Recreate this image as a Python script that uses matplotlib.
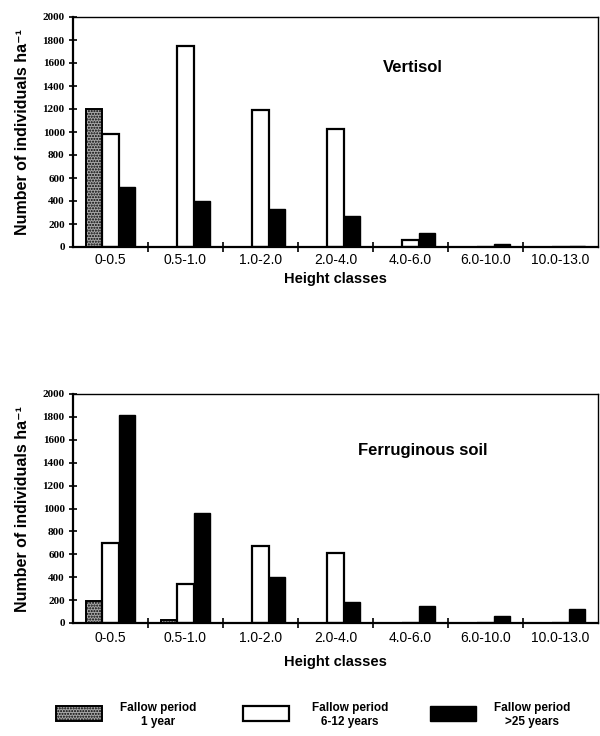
import matplotlib
matplotlib.use("Agg")
import matplotlib.pyplot as plt
from matplotlib.patches import Rectangle
import numpy as np

categories = ["0-0.5", "0.5-1.0", "1.0-2.0", "2.0-4.0", "4.0-6.0", "6.0-10.0", "10.0-13.0"]
series_names = ["Fallow period\n1 year", "Fallow period\n6-12 years", "Fallow period\n>25 years"]

vertisol_1yr = [1200, 0, 0, 0, 0, 0, 0]
vertisol_6_12 = [980, 1750, 1190, 1030, 60, 0, 0]
vertisol_25 = [520, 400, 330, 270, 125, 30, 5]

ferrug_1yr = [190, 30, 0, 0, 0, 0, 0]
ferrug_6_12 = [700, 340, 670, 610, 0, 0, 0]
ferrug_25 = [1820, 960, 400, 180, 150, 60, 125]

yticks = [0, 200, 400, 600, 800, 1000, 1200, 1400, 1600, 1800, 2000]

plt.rcParams['font.family'] = ['Liberation Sans', 'DejaVu Sans']

fig = plt.figure(figsize=(6, 7.36), dpi=100)

styles = [
    dict(facecolor='#a8a8a8', edgecolor='black', hatch='......', linewidth=1.4),
    dict(facecolor='white', edgecolor='black', linewidth=1.6),
    dict(facecolor='black', edgecolor='black', linewidth=1.0),
]

def draw(ax, data, title, tx, ty, pad, xlpad):
    x = np.arange(len(categories))
    w = 0.22
    for i, (vals, st) in enumerate(zip(data, styles)):
        ax.bar(x + (i - 1) * w, vals, width=w, **st, zorder=2)
    ax.set_xlim(-0.5, len(categories) - 0.5)
    ax.set_ylim(0, 2000)
    ax.set_yticks(yticks)
    ax.set_yticklabels([str(v) for v in yticks], family=['Liberation Serif', 'DejaVu Serif'],
                       fontweight='bold', fontsize=8)
    ax.set_xticks(x)
    ax.set_xticklabels(categories, fontsize=10)
    ax.tick_params(axis='x', length=0, pad=pad)
    ax.set_xticks(np.arange(len(categories) - 1) + 0.5, minor=True)
    ax.tick_params(axis='x', which='minor', direction='inout', length=7, width=1.2)
    ax.tick_params(axis='y', direction='inout', length=6, width=1.2, pad=3)
    for s in ax.spines.values():
        s.set_linewidth(1.0)
    ax.spines['left'].set_linewidth(1.6)
    ax.spines['bottom'].set_linewidth(1.6)
    ax.set_ylabel("Number of individuals ha\u207b\u00b9", fontsize=11.5, fontweight='bold', labelpad=9)
    ax.set_xlabel("Height classes", fontsize=10.5, fontweight='bold', labelpad=xlpad)
    ax.text(tx, ty, title, transform=ax.transAxes, fontsize=12, fontweight='bold',
            ha='center', va='center')

ax1 = fig.add_axes([73/600, 1 - 247/736, 525/600, 230/736])
draw(ax1, [vertisol_1yr, vertisol_6_12, vertisol_25], "Vertisol", 0.648, 0.78, 4, 4)

ax2 = fig.add_axes([73/600, 1 - 623/736, 525/600, 229/736])
draw(ax2, [ferrug_1yr, ferrug_6_12, ferrug_25], "Ferruginous soil", 0.667, 0.755, 6, 7)

# legend
lax = fig.add_axes([0, 0, 1, 1], facecolor='none')
lax.set_xlim(0, 600)
lax.set_ylim(736, 0)
lax.axis('off')
patch_x = [56, 243, 430]
text_x = [158, 350, 532]
for px, tx, st, name in zip(patch_x, text_x, styles, series_names):
    lax.add_patch(Rectangle((px, 706), 46, 15, **st))
    lax.text(tx, 715, name, ha='center', va='center', fontsize=8.5, fontweight='bold',
             linespacing=1.3)

fig.savefig("out.png", dpi=100)
